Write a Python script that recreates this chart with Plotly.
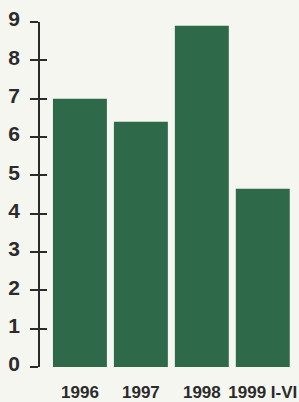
import plotly.graph_objects as go

categories = ["1996", "1997", "1998", "1999 I-VI"]
values = [7.0, 6.4, 8.9, 4.65]
y_ticks = [0, 1, 2, 3, 4, 5, 6, 7, 8, 9]

BG = "#f6f6f1"
GREEN = "#2e6a4a"
INK = "#2b2b2b"
FONT = "Liberation Sans"

fig = go.Figure()
fig.add_trace(go.Bar(x=categories, y=values, marker=dict(color=GREEN, line=dict(width=0)),
                     hoverinfo="x+y"))
# invisible helper trace so the overlay axis (inside tick marks) is drawn
fig.add_trace(go.Scatter(x=categories, y=values, yaxis="y2", mode="markers",
                         marker=dict(opacity=0), hoverinfo="skip", showlegend=False))

fig.update_layout(
    width=299, height=402,
    margin=dict(l=40, r=3, t=22, b=35, autoexpand=False),
    paper_bgcolor=BG, plot_bgcolor=BG,
    showlegend=False,
    bargap=0.115,
    xaxis=dict(
        type="category", range=[-0.655, 3.545],
        showline=False, showgrid=False, zeroline=False, ticks="",
        tickangle=0, automargin=False,
        tickfont=dict(family=FONT, size=17, color=INK, weight="bold"),
        ticklabelstandoff=13,
    ),
    yaxis=dict(
        range=[0, 9], tickvals=y_ticks, ticktext=[str(v) for v in y_ticks],
        showline=True, linecolor=INK, linewidth=1.5,
        ticks="outside", ticklen=8, tickwidth=1.5, tickcolor=INK,
        showgrid=False, zeroline=False, automargin=False,
        tickfont=dict(family=FONT, size=21, color=INK, weight="bold"),
        ticklabelstandoff=6, ticklabelshift=-3,
    ),
    yaxis2=dict(
        overlaying="y", side="left", range=[0, 9], tickvals=y_ticks,
        showline=False, ticks="inside", ticklen=7, tickwidth=1.5, tickcolor=INK,
        showticklabels=False, showgrid=False, zeroline=False, automargin=False,
    ),
)

fig.write_html("out.html", config={"displayModeBar": False},
               post_script="document.body.style.margin='0';document.body.style.background='%s';" % BG)
